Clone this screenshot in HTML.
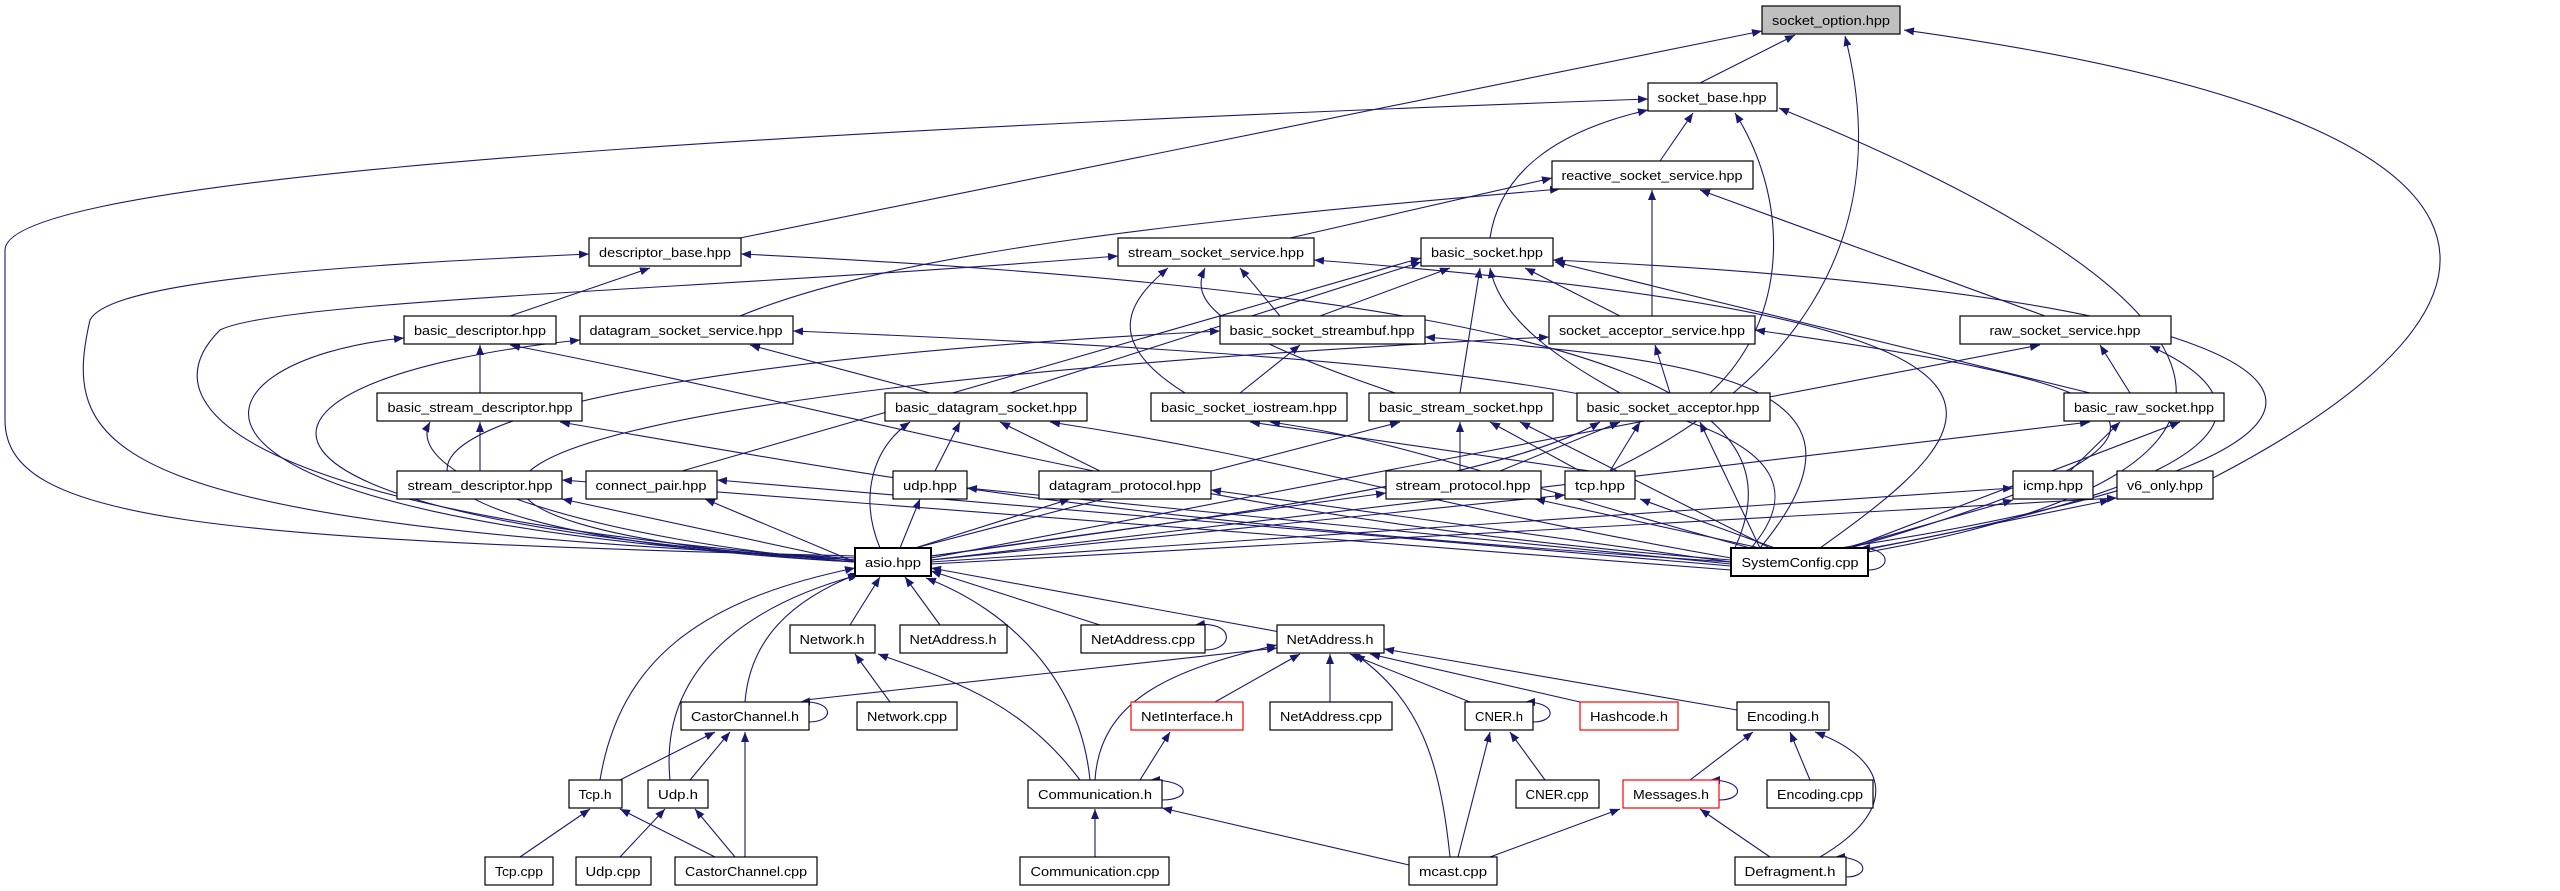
<!DOCTYPE html>
<html><head><meta charset="utf-8"><style>
html,body{margin:0;padding:0;background:#fff;}
svg{display:block;}
text{font-family:"Liberation Sans",sans-serif;font-size:13px;fill:#000;text-anchor:middle;}
.n{fill:#fff;stroke:#000;stroke-width:1.2;}
.r{fill:#fff;stroke:#f00;stroke-width:1.2;}
path{fill:none;stroke:#191970;stroke-width:1.1;marker-end:url(#a);}
</style></head><body>
<svg width="2560" height="891" viewBox="0 0 2560 891" xmlns="http://www.w3.org/2000/svg">
<defs><marker id="a" markerWidth="10" markerHeight="8" refX="10" refY="4" orient="auto" markerUnits="userSpaceOnUse"><polygon points="0,0 10,4 0,8" fill="#191970"/></marker></defs>
<g>
<!-- top section edges -->
<path d="M1700,83 L1795,35"/>
<path d="M740,238 L1762,31"/>
<path d="M1610,471 C1780,390 1900,250 1845,36"/>
<path d="M2213,478 C2555,300 2555,120 1904,30"/>
<path d="M855,556 C200,540 5,520 5,420 L5,250 C5,190 500,140 1648,99"/>
<path d="M1490,238 C1500,170 1560,130 1648,110"/>
<path d="M1660,161 L1693,113"/>
<path d="M1710,393 C1790,320 1790,200 1735,113"/>
<path d="M1868,552 C2330,470 2250,300 1779,108"/>
<path d="M1290,238 L1552,178"/>
<path d="M740,316 C900,250 1200,220 1560,189"/>
<path d="M1652,316 L1652,190"/>
<path d="M2045,316 L1700,190"/>
<path d="M510,316 L650,268"/>
<path d="M855,558 C100,525 60,450 90,320 C110,280 350,265 589,254"/>
<path d="M1731,556 C1800,420 1700,300 741,254"/>
<path d="M1185,393 C1100,340 1130,300 1168,268"/>
<path d="M1395,393 C1210,330 1190,300 1205,268"/>
<path d="M1280,316 L1240,268"/>
<path d="M855,560 C300,520 130,420 220,330 C280,300 700,290 1118,256"/>
<path d="M1820,548 C2000,420 2100,320 1314,260"/>
<path d="M1320,316 L1450,268"/>
<path d="M1460,393 L1480,268"/>
<path d="M1620,393 C1560,360 1500,320 1490,268"/>
<path d="M1620,316 L1525,268"/>
<path d="M2090,393 L1555,262"/>
<path d="M1010,393 L1421,262"/>
<path d="M682,471 L1421,258"/>
<path d="M1840,548 C2480,450 2410,300 1553,260"/>
<path d="M480,393 L480,345"/>
<path d="M855,560 C100,520 180,360 404,338"/>
<path d="M1731,560 C1200,520 900,420 510,345"/>
<path d="M930,393 L750,345"/>
<path d="M855,560 C180,520 200,380 580,340"/>
<path d="M1740,560 C1900,400 1500,360 793,331"/>
<path d="M1240,393 L1300,345"/>
<path d="M855,562 C270,530 250,380 1220,331"/>
<path d="M1760,548 C1900,380 1700,360 1425,337"/>
<path d="M1670,393 L1655,345"/>
<path d="M855,562 C350,530 300,400 1549,337"/>
<path d="M1850,548 C2300,420 2100,380 1755,330"/>
<path d="M2130,393 L2100,345"/>
<path d="M931,558 L2040,345"/>
<path d="M1860,550 C2260,480 2270,400 2150,346"/>
<path d="M480,471 L480,422"/>
<path d="M855,562 C600,540 400,480 430,422"/>
<path d="M1731,562 C1100,520 900,480 560,422"/>
<path d="M935,471 L960,422"/>
<path d="M1100,471 L1000,422"/>
<path d="M880,548 C860,500 870,450 910,422"/>
<path d="M1731,558 C1400,500 1300,460 1050,422"/>
<path d="M1590,471 L1250,422"/>
<path d="M1750,548 C1500,480 1400,440 1270,422"/>
<path d="M1460,471 L1460,422"/>
<path d="M1580,471 L1490,422"/>
<path d="M915,548 L1400,422"/>
<path d="M1770,548 L1520,422"/>
<path d="M1500,471 L1620,422"/>
<path d="M1610,471 L1640,422"/>
<path d="M931,556 C1200,520 1500,480 1600,422"/>
<path d="M1760,548 L1700,422"/>
<path d="M2070,471 L2120,422"/>
<path d="M931,560 L2090,422"/>
<path d="M1850,548 L2180,422"/>
<path d="M855,562 L562,499"/>
<path d="M855,562 L705,499"/>
<path d="M900,548 L920,499"/>
<path d="M915,548 L1070,499"/>
<path d="M931,556 L1386,493"/>
<path d="M931,560 L1565,495"/>
<path d="M931,562 L2013,488"/>
<path d="M931,564 L2117,498"/>
<path d="M1731,570 L562,480"/>
<path d="M1731,566 L717,480"/>
<path d="M1731,564 L967,488"/>
<path d="M1731,562 L1211,490"/>
<path d="M1760,548 L1535,499"/>
<path d="M1775,548 L1640,499"/>
<path d="M1845,548 L2013,500"/>
<path d="M1855,552 L2110,500"/>
<path d="M1868,570 C1892,570 1892,548 1860,548"/>
<!-- bottom section edges -->
<path d="M850,625 L880,577"/>
<path d="M940,625 L905,577"/>
<path d="M1100,625 L931,571"/>
<path d="M1280,632 L931,568"/>
<path d="M1090,780 C1080,680 1010,610 926,578"/>
<path d="M745,702 C750,640 790,600 860,573"/>
<path d="M600,780 C620,660 700,600 855,568"/>
<path d="M670,780 C660,680 730,610 858,575"/>
<path d="M1205,650 C1235,650 1235,620 1195,625"/>
<path d="M890,702 L855,654"/>
<path d="M1080,780 C1020,700 950,680 878,654"/>
<path d="M805,700 L1277,648"/>
<path d="M1215,702 L1300,654"/>
<path d="M1095,780 C1100,700 1170,670 1277,645"/>
<path d="M1330,702 L1330,654"/>
<path d="M1470,702 L1350,654"/>
<path d="M1580,702 L1370,654"/>
<path d="M1737,710 L1384,649"/>
<path d="M1450,857 C1440,760 1420,700 1355,654"/>
<path d="M809,722 C835,722 835,700 800,702"/>
<path d="M620,780 L715,732"/>
<path d="M690,780 L730,732"/>
<path d="M745,857 L745,732"/>
<path d="M1140,780 L1170,732"/>
<path d="M1162,800 C1192,800 1192,780 1150,780"/>
<path d="M1095,857 L1095,809"/>
<path d="M1409,865 L1162,808"/>
<path d="M1533,722 C1557,722 1557,702 1525,702"/>
<path d="M1545,780 L1510,732"/>
<path d="M1458,857 L1490,732"/>
<path d="M1690,780 L1753,732"/>
<path d="M1810,780 L1790,732"/>
<path d="M1820,857 C1900,810 1890,760 1815,732"/>
<path d="M1719,800 C1745,800 1745,780 1710,780"/>
<path d="M1490,857 L1620,809"/>
<path d="M1770,857 L1700,809"/>
<path d="M1846,877 C1870,877 1870,857 1835,857"/>
<path d="M520,857 L590,809"/>
<path d="M715,857 L620,809"/>
<path d="M620,857 L665,809"/>
<path d="M735,857 L695,809"/>
</g>
<g>
<rect class="n" x="1762" y="6" width="138" height="28" style="fill:#bfbfbf"/><text x="1831" y="25" textLength="118" lengthAdjust="spacingAndGlyphs">socket_option.hpp</text>
<rect class="n" x="1648" y="83" width="129" height="28"/><text x="1712" y="102" textLength="109" lengthAdjust="spacingAndGlyphs">socket_base.hpp</text>
<rect class="n" x="1552" y="161" width="201" height="28"/><text x="1652" y="180" textLength="181" lengthAdjust="spacingAndGlyphs">reactive_socket_service.hpp</text>
<rect class="n" x="589" y="238" width="152" height="28"/><text x="665" y="257" textLength="132" lengthAdjust="spacingAndGlyphs">descriptor_base.hpp</text>
<rect class="n" x="1118" y="238" width="196" height="28"/><text x="1216" y="257" textLength="176" lengthAdjust="spacingAndGlyphs">stream_socket_service.hpp</text>
<rect class="n" x="1421" y="238" width="132" height="28"/><text x="1487" y="257" textLength="112" lengthAdjust="spacingAndGlyphs">basic_socket.hpp</text>
<rect class="n" x="404" y="316" width="152" height="28"/><text x="480" y="335" textLength="132" lengthAdjust="spacingAndGlyphs">basic_descriptor.hpp</text>
<rect class="n" x="580" y="316" width="213" height="28"/><text x="686" y="335" textLength="193" lengthAdjust="spacingAndGlyphs">datagram_socket_service.hpp</text>
<rect class="n" x="1220" y="316" width="205" height="28"/><text x="1322" y="335" textLength="185" lengthAdjust="spacingAndGlyphs">basic_socket_streambuf.hpp</text>
<rect class="n" x="1549" y="316" width="206" height="28"/><text x="1652" y="335" textLength="186" lengthAdjust="spacingAndGlyphs">socket_acceptor_service.hpp</text>
<rect class="n" x="1960" y="316" width="211" height="28"/><text x="2065" y="335" textLength="151" lengthAdjust="spacingAndGlyphs">raw_socket_service.hpp</text>
<rect class="n" x="377" y="393" width="205" height="28"/><text x="480" y="412" textLength="185" lengthAdjust="spacingAndGlyphs">basic_stream_descriptor.hpp</text>
<rect class="n" x="885" y="393" width="202" height="28"/><text x="986" y="412" textLength="182" lengthAdjust="spacingAndGlyphs">basic_datagram_socket.hpp</text>
<rect class="n" x="1151" y="393" width="196" height="28"/><text x="1249" y="412" textLength="176" lengthAdjust="spacingAndGlyphs">basic_socket_iostream.hpp</text>
<rect class="n" x="1369" y="393" width="184" height="28"/><text x="1461" y="412" textLength="164" lengthAdjust="spacingAndGlyphs">basic_stream_socket.hpp</text>
<rect class="n" x="1577" y="393" width="193" height="28"/><text x="1673" y="412" textLength="173" lengthAdjust="spacingAndGlyphs">basic_socket_acceptor.hpp</text>
<rect class="n" x="2064" y="393" width="160" height="28"/><text x="2144" y="412" textLength="140" lengthAdjust="spacingAndGlyphs">basic_raw_socket.hpp</text>
<rect class="n" x="397" y="471" width="165" height="28"/><text x="480" y="490" textLength="145" lengthAdjust="spacingAndGlyphs">stream_descriptor.hpp</text>
<rect class="n" x="586" y="471" width="131" height="28"/><text x="651" y="490" textLength="111" lengthAdjust="spacingAndGlyphs">connect_pair.hpp</text>
<rect class="n" x="893" y="471" width="74" height="28"/><text x="930" y="490" textLength="54" lengthAdjust="spacingAndGlyphs">udp.hpp</text>
<rect class="n" x="1039" y="471" width="172" height="28"/><text x="1125" y="490" textLength="152" lengthAdjust="spacingAndGlyphs">datagram_protocol.hpp</text>
<rect class="n" x="1386" y="471" width="155" height="28"/><text x="1463" y="490" textLength="135" lengthAdjust="spacingAndGlyphs">stream_protocol.hpp</text>
<rect class="n" x="1565" y="471" width="70" height="28"/><text x="1600" y="490" textLength="50" lengthAdjust="spacingAndGlyphs">tcp.hpp</text>
<rect class="n" x="2013" y="471" width="80" height="28"/><text x="2053" y="490" textLength="60" lengthAdjust="spacingAndGlyphs">icmp.hpp</text>
<rect class="n" x="2117" y="471" width="96" height="28"/><text x="2165" y="490" textLength="76" lengthAdjust="spacingAndGlyphs">v6_only.hpp</text>
<rect class="n" x="855" y="548" width="76" height="28" style="stroke-width:2"/><text x="893" y="567" textLength="56" lengthAdjust="spacingAndGlyphs">asio.hpp</text>
<rect class="n" x="1731" y="548" width="137" height="28" style="stroke-width:2"/><text x="1800" y="567" textLength="117" lengthAdjust="spacingAndGlyphs">SystemConfig.cpp</text>
<rect class="n" x="790" y="625" width="85" height="28"/><text x="832" y="644" textLength="65" lengthAdjust="spacingAndGlyphs">Network.h</text>
<rect class="n" x="900" y="625" width="107" height="28"/><text x="953" y="644" textLength="87" lengthAdjust="spacingAndGlyphs">NetAddress.h</text>
<rect class="n" x="1081" y="625" width="124" height="28"/><text x="1143" y="644" textLength="104" lengthAdjust="spacingAndGlyphs">NetAddress.cpp</text>
<rect class="n" x="1277" y="625" width="107" height="28"/><text x="1330" y="644" textLength="87" lengthAdjust="spacingAndGlyphs">NetAddress.h</text>
<rect class="n" x="681" y="702" width="128" height="28"/><text x="745" y="721" textLength="108" lengthAdjust="spacingAndGlyphs">CastorChannel.h</text>
<rect class="n" x="857" y="702" width="100" height="28"/><text x="907" y="721" textLength="80" lengthAdjust="spacingAndGlyphs">Network.cpp</text>
<rect class="r" x="1131" y="702" width="112" height="28"/><text x="1187" y="721" textLength="92" lengthAdjust="spacingAndGlyphs">NetInterface.h</text>
<rect class="n" x="1270" y="702" width="122" height="28"/><text x="1331" y="721" textLength="102" lengthAdjust="spacingAndGlyphs">NetAddress.cpp</text>
<rect class="n" x="1465" y="702" width="68" height="28"/><text x="1499" y="721" textLength="48" lengthAdjust="spacingAndGlyphs">CNER.h</text>
<rect class="r" x="1580" y="702" width="98" height="28"/><text x="1629" y="721" textLength="78" lengthAdjust="spacingAndGlyphs">Hashcode.h</text>
<rect class="n" x="1737" y="702" width="92" height="28"/><text x="1783" y="721" textLength="72" lengthAdjust="spacingAndGlyphs">Encoding.h</text>
<rect class="n" x="569" y="780" width="53" height="28"/><text x="595" y="799" textLength="33" lengthAdjust="spacingAndGlyphs">Tcp.h</text>
<rect class="n" x="648" y="780" width="60" height="28"/><text x="678" y="799" textLength="40" lengthAdjust="spacingAndGlyphs">Udp.h</text>
<rect class="n" x="1028" y="780" width="134" height="28"/><text x="1095" y="799" textLength="114" lengthAdjust="spacingAndGlyphs">Communication.h</text>
<rect class="n" x="1516" y="780" width="83" height="28"/><text x="1557" y="799" textLength="63" lengthAdjust="spacingAndGlyphs">CNER.cpp</text>
<rect class="r" x="1623" y="780" width="96" height="28"/><text x="1671" y="799" textLength="76" lengthAdjust="spacingAndGlyphs">Messages.h</text>
<rect class="n" x="1767" y="780" width="106" height="28"/><text x="1820" y="799" textLength="86" lengthAdjust="spacingAndGlyphs">Encoding.cpp</text>
<rect class="n" x="485" y="857" width="68" height="28"/><text x="519" y="876" textLength="48" lengthAdjust="spacingAndGlyphs">Tcp.cpp</text>
<rect class="n" x="576" y="857" width="75" height="28"/><text x="613" y="876" textLength="55" lengthAdjust="spacingAndGlyphs">Udp.cpp</text>
<rect class="n" x="675" y="857" width="142" height="28"/><text x="746" y="876" textLength="122" lengthAdjust="spacingAndGlyphs">CastorChannel.cpp</text>
<rect class="n" x="1020" y="857" width="149" height="28"/><text x="1095" y="876" textLength="129" lengthAdjust="spacingAndGlyphs">Communication.cpp</text>
<rect class="n" x="1409" y="857" width="88" height="28"/><text x="1453" y="876" textLength="68" lengthAdjust="spacingAndGlyphs">mcast.cpp</text>
<rect class="n" x="1735" y="857" width="111" height="28"/><text x="1790" y="876" textLength="91" lengthAdjust="spacingAndGlyphs">Defragment.h</text>
</g>
</svg>
</body></html>
